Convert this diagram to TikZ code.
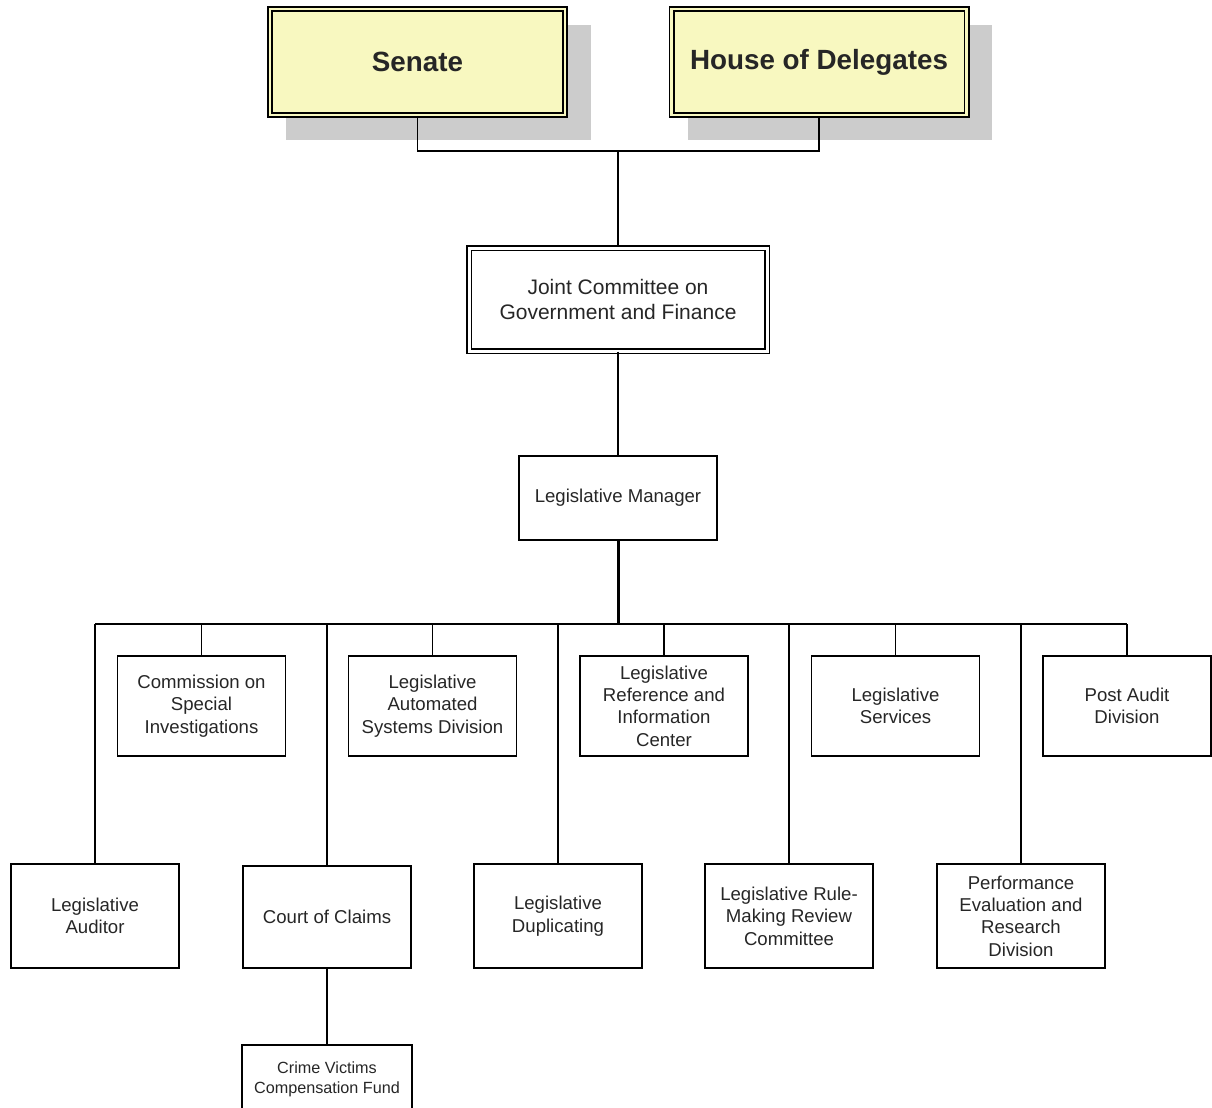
\documentclass[tikz,border=0pt]{standalone}
\usepackage{fontspec}
\setmainfont{Liberation Sans}
\usepackage{tikz}
\usetikzlibrary{positioning}
\usetikzlibrary{calc}
\pgfdeclarelayer{background}
\pgfsetlayers{background,main}
\definecolor{chamberfill}{HTML}{F8F8C0}
\definecolor{shadowgray}{HTML}{CCCCCC}
\definecolor{textgray}{HTML}{262626}

\begin{document}
\begin{tikzpicture}
			[
				x = 0.5pt, y = -0.5pt,
				chamber/.style = {rectangle, draw = black, line width = 0.8pt, double = chamberfill, double distance = 1.4pt, fill = chamberfill, minimum width = 147.5pt, minimum height = 53pt, inner sep = 0pt, text = textgray, font = \fontsize{13.9}{16}\selectfont\bfseries},
				joint/.style = {rectangle, draw = black, line width = 0.7pt, double = white, double distance = 1.5pt, minimum width = 149pt, minimum height = 51.5pt, inner sep = 0pt, align = center, text = textgray, font = \fontsize{10.5}{12.5}\selectfont},
				unit/.style = {rectangle, draw = black, line width = 0.6pt, minimum width = 84pt, minimum height = 50pt, inner sep = 0pt, align = center, text = textgray, font = \fontsize{9.3}{11.2}\selectfont},
				link/.style = {line width = 0.75pt},
			]
			\useasboundingbox (0,0) rectangle (1212,1108);
			\node (senate) [chamber] at (417.5,62) {Senate};
			\node (house) [chamber] at (819,62) {House of Delegates};
			\node (joint) [joint] at (618,299.5) {Joint Committee on\\Government and Finance};
			\node (manager) [unit, minimum width = 99pt, minimum height = 42pt] at (618,498) {Legislative Manager};
			% upper row
			\node (commission) [unit] at (201.5,706) {Commission on\\Special\\Investigations};
			\node (automated) [unit] at (432.5,706) {Legislative\\Automated\\Systems Division};
			\node (reference) [unit] at (664,706) {Legislative\\Reference and\\Information\\Center};
			\node (services) [unit] at (895.5,706) {Legislative\\Services};
			\node (postaudit) [unit] at (1127,706) {Post Audit\\Division};
			% lower row
			\node (auditor) [unit, minimum height = 52pt] at (95,916) {Legislative\\Auditor};
			\node (claims) [unit, minimum height = 51pt] at (327,917) {Court of Claims};
			\node (duplicating) [unit, minimum height = 52pt] at (558,916) {Legislative\\Duplicating};
			\node (rulemaking) [unit, minimum height = 52pt] at (789,916) {Legislative Rule-\\Making Review\\Committee};
			\node (performance) [unit, minimum height = 52pt] at (1021,916) {Performance\\Evaluation and\\Research\\Division};
			\node (victims) [unit, minimum width = 85pt, minimum height = 34pt, font = \fontsize{8.1}{10}\selectfont] at (327,1079) {Crime Victims\\Compensation Fund};
			\begin{pgfonlayer}{background}
				\fill [shadowgray] ($(senate.north west)+(17,17)$) rectangle ($(senate.south east)+(25,24)$);
				\fill [shadowgray] ($(house.north west)+(17,17)$) rectangle ($(house.south east)+(25,24)$);
			\end{pgfonlayer}
			\coordinate (legislature) at (618,151);
			\coordinate (bus) at (618,624);
			\draw [link] (senate.south) |- (legislature) -| (house.south);
			\draw [link] (legislature) -- (joint.north);
			\draw [link] (joint.south) -- (manager.north);
			\draw [line width = 1.5pt] (manager.south) -- (bus);
			\draw [link] (auditor.north |- bus) -- (postaudit.north |- bus);
			\foreach \unit in {commission, automated, reference, services, postaudit, auditor, claims, duplicating, rulemaking, performance}
				\draw [link] (\unit.north |- bus) -- (\unit.north);
			\draw [link] (claims.south) -- (victims.north);
		\end{tikzpicture}
\end{document}
